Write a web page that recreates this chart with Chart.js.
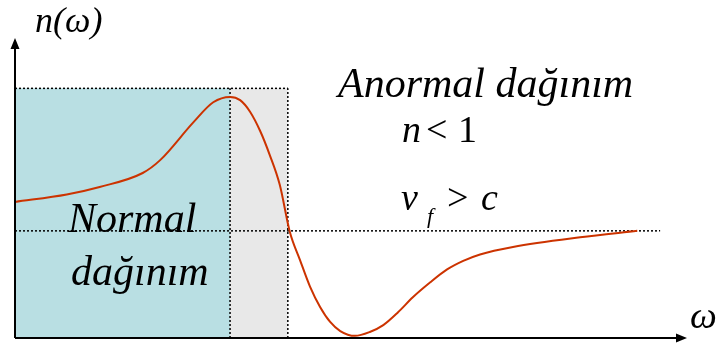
<!DOCTYPE html>
<html>
<head>
<meta charset="utf-8">
<script src="https://cdn.jsdelivr.net/npm/chart.js@4"></script>
<style>
  body { margin: 0; background: #fff; }
  #wrap { width: 722px; height: 346px; }
</style>
</head>
<body>
<div id="wrap"><canvas id="kirilma" width="722" height="346"></canvas></div>
<script>
// frekans (keyfi birim) ve kirilma indisi n(w)
const omega = [0, 7.7, 12.6, 19.0, 21.6, 26.5, 29.5, 32.0, 33.5, 35.0, 36.5, 37.9, 39.4, 40.9, 42.4, 43.9, 45.4, 46.9, 48.4, 50.6, 52.8, 54.8, 57.0, 59.2, 61.8, 64.3, 66.7, 69.2, 74.1, 84.1, 92.6];
const nDegeri = [1.27, 1.34, 1.41, 1.54, 1.66, 2.01, 2.20, 2.25, 2.22, 2.11, 1.93, 1.71, 1.43, 0.99, 0.73, 0.48, 0.29, 0.15, 0.065, 0.02, 0.056, 0.12, 0.24, 0.38, 0.52, 0.64, 0.72, 0.78, 0.85, 0.94, 1.0];

// bolge sinirlari
const normalSon = 32;
const anormalSon = 40.6;
const kutuUst = 2.33;
const birDuzeyi = 1;
const cizgiSon = 96;
const xMax = 100;
const yMax = 2.8;

const egri = omega.map((w, i) => ({ x: w, y: nDegeri[i] }));

function kesikli(noktalar) {
  return {
    data: noktalar,
    borderColor: '#000',
    borderWidth: 1.5,
    borderDash: [2, 2],
    pointRadius: 0,
    fill: false,
    showLine: true
  };
}

function dolgu(x0, x1, renk) {
  return {
    data: [{ x: x0, y: kutuUst }, { x: x1, y: kutuUst }],
    borderWidth: 0,
    pointRadius: 0,
    backgroundColor: renk,
    fill: 'origin',
    showLine: true
  };
}

const SERIF = '"Liberation Serif", "Times New Roman", serif';
const it = (s) => 'italic ' + s + 'px ' + SERIF;
const dz = (s) => s + 'px ' + SERIF;

// eksenler, oklar ve yazilar
const eksenler = {
  id: 'eksenler',
  afterDatasetsDraw(chart) {
    const c = chart.ctx;
    const sx = chart.scales.x, sy = chart.scales.y;
    const x0 = sx.getPixelForValue(0), y0 = sy.getPixelForValue(0);
    const xs = sx.getPixelForValue(xMax), ys = sy.getPixelForValue(yMax);
    c.save();
    c.strokeStyle = '#000';
    c.fillStyle = '#000';
    c.lineWidth = 2;
    c.beginPath();
    c.moveTo(x0, y0); c.lineTo(xs - 8, y0);
    c.moveTo(x0, y0); c.lineTo(x0, ys + 8);
    c.stroke();
    c.beginPath();
    c.moveTo(xs, y0); c.lineTo(xs - 11, y0 - 4.5); c.lineTo(xs - 11, y0 + 4.5); c.closePath();
    c.moveTo(x0, ys); c.lineTo(x0 - 4.5, ys + 11); c.lineTo(x0 + 4.5, ys + 11); c.closePath();
    c.fill();

    const yaz = (t, x, y, f) => { c.font = f; c.fillText(t, x, y); };
    c.textBaseline = 'alphabetic';
    yaz('n(ω)', 35, 32, it(36));
    yaz('ω', 690, 328, it(38));
    yaz('Anormal dağınım', 338, 97, it(42));
    yaz('n', 402, 142, it(38));
    yaz('<', 426, 142, dz(38));
    yaz('1', 458, 142, dz(38));
    yaz('v', 401, 210, it(38));
    yaz('f', 427, 223, it(22));
    yaz('>', 447, 210, dz(38));
    yaz('c', 481, 210, it(38));
    yaz('Normal', 68, 232, it(42));
    yaz('dağınım', 71, 285, it(42));
    c.restore();
  }
};

function ciz() {
  new Chart(document.getElementById('kirilma'), {
    type: 'scatter',
    data: {
      datasets: [
        {
          data: egri,
          borderColor: '#cc3300',
          borderWidth: 2,
          pointRadius: 0,
          showLine: true,
          cubicInterpolationMode: 'monotone',
          fill: false
        },
        kesikli([{ x: 0, y: kutuUst }, { x: anormalSon, y: kutuUst }]),
        kesikli([{ x: normalSon, y: 0 }, { x: normalSon, y: kutuUst }]),
        kesikli([{ x: anormalSon, y: 0 }, { x: anormalSon, y: kutuUst }]),
        kesikli([{ x: 0, y: birDuzeyi }, { x: cizgiSon, y: birDuzeyi }]),
        dolgu(0, normalSon, '#b9dfe3'),
        dolgu(normalSon, anormalSon, '#e8e8e8')
      ]
    },
    options: {
      responsive: false,
      animation: false,
      layout: { padding: { left: 15, right: 35, top: 38, bottom: 8 } },
      plugins: { legend: { display: false }, tooltip: { enabled: false } },
      scales: {
        x: { type: 'linear', min: 0, max: xMax, display: false },
        y: { min: 0, max: yMax, display: false }
      }
    },
    plugins: [eksenler]
  });
}

Promise.all([document.fonts.load(it(40)), document.fonts.load(dz(40))]).then(ciz, ciz);
</script>
</body>
</html>
